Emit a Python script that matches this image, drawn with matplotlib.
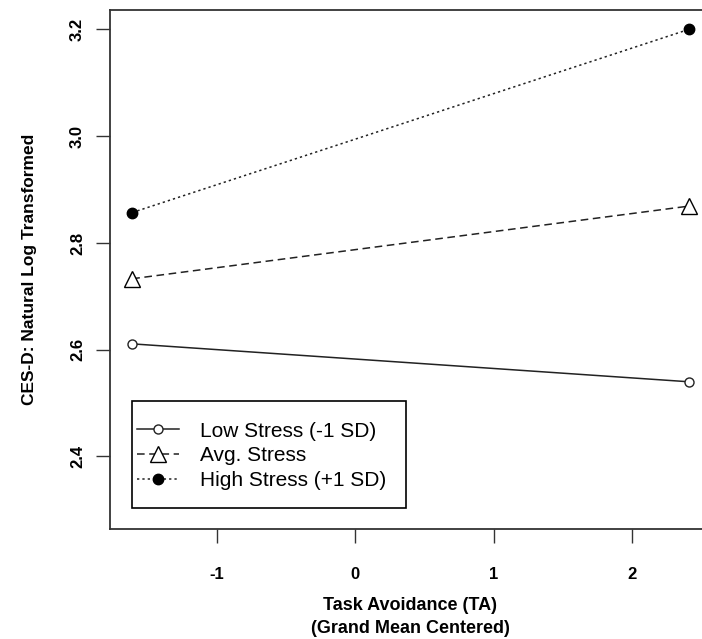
import matplotlib.pyplot as plt
from matplotlib.patches import Rectangle

plt.rcParams['font.family'] = ['Liberation Sans', 'DejaVu Sans']

# data
ta = [-1.61, 2.41]
low_stress = [2.611, 2.540]
avg_stress = [2.733, 2.869]
high_stress = [2.857, 3.200]
series_labels = ['Low Stress (-1 SD)', 'Avg. Stress', 'High Stress (+1 SD)']
yticks = [2.4, 2.6, 2.8, 3.0, 3.2]
xticks = [-1, 0, 1, 2]

fig = plt.figure(figsize=(7.02, 6.39), dpi=100)
ax = fig.add_axes([0.1567, 0.172, 0.856, 0.812])

ax.plot(ta, low_stress, color='#222222', lw=1.1, ls='-', marker='o', ms=6.5,
        mfc='white', mec='#222222', mew=1, label=series_labels[0])
ax.plot(ta, avg_stress, color='#222222', lw=1.1, ls=(0, (5, 3)), marker='^', ms=11,
        mfc='white', mec='black', mew=1, label=series_labels[1])
ax.plot(ta, high_stress, color='#222222', lw=1.1, ls=(0, (1.5, 2)), marker='o', ms=7.5,
        mfc='black', mec='black', label=series_labels[2])

span = ta[1] - ta[0]
ax.set_xlim(ta[0] - 0.04 * span, ta[1] + 0.04 * span)
ax.set_ylim(2.3 - 0.036, 3.2 + 0.036)

ax.set_xticks(xticks)
ax.set_xticklabels([str(x) for x in xticks], fontweight='bold', fontsize=12)
ax.set_yticks(yticks)
ax.set_yticklabels(['%.1f' % y for y in yticks], fontweight='bold', fontsize=12,
                   rotation=90, va='center')
ax.tick_params(length=10, width=1, color='#333333')
ax.tick_params(axis='x', pad=17)
ax.tick_params(axis='y', pad=8)

for s in ax.spines.values():
    s.set_color('#333333')
    s.set_linewidth(1.3)

ax.set_xlabel('Task Avoidance (TA)\n(Grand Mean Centered)', fontweight='bold',
              fontsize=13, labelpad=11, linespacing=1.45)
ax.set_ylabel('CES-D: Natural Log Transformed', fontweight='bold', fontsize=12.5,
              labelpad=24)

# legend box drawn separately (R style: tight sides, roomy top/bottom)
ax.add_patch(Rectangle((0.0366, 0.0405), 0.456, 0.206, transform=ax.transAxes,
                       fill=False, edgecolor='black', lw=1.2, zorder=5))
ax.legend(loc='center left', bbox_to_anchor=(0.045, 0.141), fontsize=15,
          frameon=False, borderpad=0, handlelength=2.0, handletextpad=1.0,
          labelspacing=0.28, borderaxespad=0)

fig.savefig('out.png', dpi=100)
